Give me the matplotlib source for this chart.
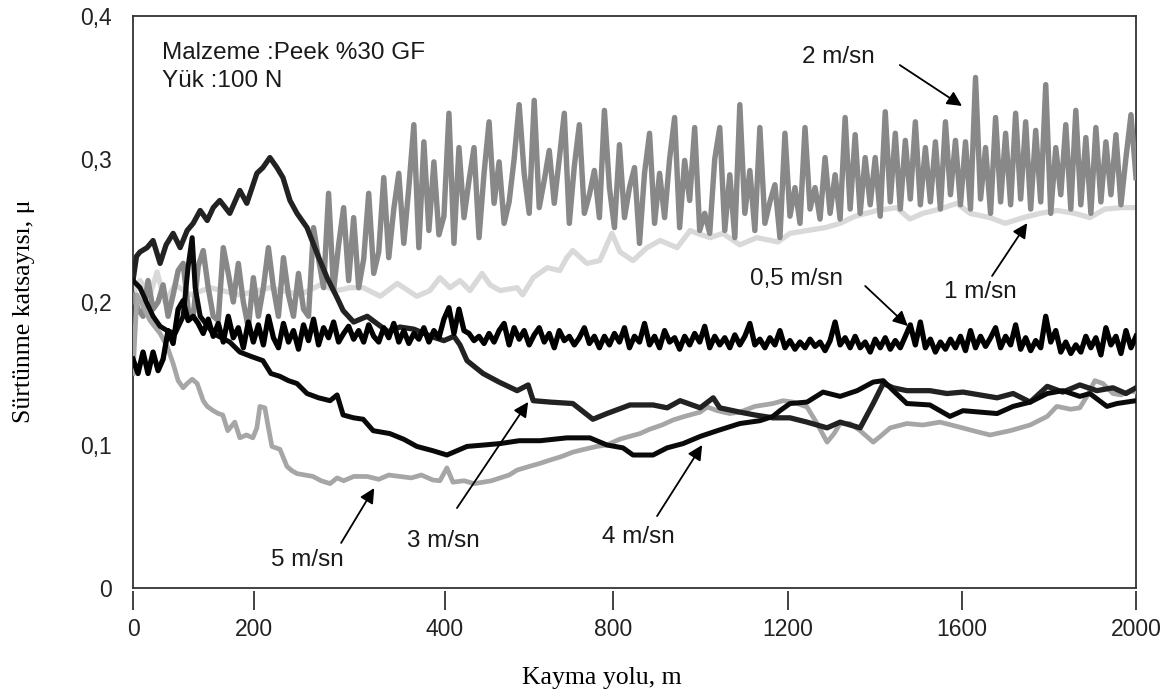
import numpy as np
import matplotlib.pyplot as plt

# x runs linear over the plotted length 0..2000; the tick labels of the
# original sit at uneven places, so they are put where the picture has them
xtick_pos = [0, 241, 622, 957, 1306, 1653, 2000]
xtick_lbl = ['0', '200', '400', '800', '1200', '1600', '2000']
ytick_pos = [0, 0.1, 0.2, 0.3, 0.4]
ytick_lbl = ['0', '0,1', '0,2', '0,3', '0,4']

# 0,5 m/sn - sampled every 10 m
mu_05 = [0.160, 0.150, 0.165, 0.150, 0.165, 0.152, 0.160, 0.180, 0.171, 0.195,
         0.201, 0.187, 0.190, 0.185, 0.178, 0.188, 0.176, 0.185, 0.172, 0.190,
         0.175, 0.182, 0.168, 0.186, 0.172, 0.184, 0.170, 0.190, 0.175, 0.168,
         0.185, 0.172, 0.180, 0.167, 0.184, 0.173, 0.188, 0.170, 0.182, 0.175,
         0.186, 0.172, 0.178, 0.183, 0.174, 0.180, 0.172, 0.184, 0.176, 0.172,
         0.182, 0.175, 0.185, 0.172, 0.180, 0.171, 0.178, 0.174, 0.182, 0.172,
         0.180, 0.175, 0.188, 0.196, 0.178, 0.195, 0.180, 0.178, 0.173, 0.176,
         0.171, 0.178, 0.172, 0.180, 0.185, 0.170, 0.182, 0.174, 0.180, 0.170,
         0.177, 0.182, 0.172, 0.178, 0.168, 0.180, 0.173, 0.176, 0.170, 0.175,
         0.182, 0.171, 0.176, 0.168, 0.176, 0.170, 0.178, 0.172, 0.182, 0.168,
         0.176, 0.172, 0.185, 0.170, 0.176, 0.168, 0.180, 0.172, 0.175, 0.167,
         0.176, 0.170, 0.178, 0.172, 0.183, 0.168, 0.176, 0.170, 0.175, 0.168,
         0.177, 0.170, 0.176, 0.185, 0.170, 0.174, 0.168, 0.175, 0.170, 0.180,
         0.168, 0.173, 0.167, 0.172, 0.168, 0.174, 0.169, 0.172, 0.166, 0.173,
         0.186, 0.170, 0.175, 0.168, 0.176, 0.168, 0.172, 0.165, 0.174, 0.168,
         0.175, 0.167, 0.173, 0.168, 0.176, 0.184, 0.170, 0.186, 0.168, 0.174,
         0.165, 0.172, 0.167, 0.174, 0.168, 0.176, 0.166, 0.180, 0.168, 0.176,
         0.169, 0.175, 0.182, 0.168, 0.176, 0.170, 0.184, 0.167, 0.175, 0.166,
         0.173, 0.168, 0.190, 0.172, 0.180, 0.165, 0.172, 0.164, 0.170, 0.165,
         0.176, 0.168, 0.175, 0.163, 0.182, 0.170, 0.176, 0.164, 0.180, 0.168,
         0.176]

# 2 m/sn - sampled every 10 m
mu_2 = [0.205, 0.195, 0.190, 0.215, 0.195, 0.200, 0.212, 0.190, 0.205, 0.222,
        0.227, 0.195, 0.190, 0.225, 0.236, 0.210, 0.190, 0.187, 0.238, 0.220,
        0.200, 0.227, 0.200, 0.182, 0.217, 0.190, 0.210, 0.238, 0.210, 0.190,
        0.231, 0.205, 0.190, 0.220, 0.195, 0.190, 0.252, 0.230, 0.210,
        0.276, 0.208, 0.240, 0.266, 0.215, 0.259, 0.210, 0.230, 0.276, 0.220,
        0.235, 0.287, 0.231, 0.265, 0.290, 0.241, 0.280, 0.324, 0.238, 0.312,
        0.250, 0.298, 0.247, 0.260, 0.332, 0.241, 0.308, 0.259, 0.285, 0.308,
        0.245, 0.290, 0.326, 0.269, 0.298, 0.255, 0.270, 0.300, 0.338, 0.290,
        0.262, 0.341, 0.266, 0.285, 0.306, 0.269, 0.300, 0.332, 0.255, 0.295,
        0.324, 0.262, 0.275, 0.292, 0.259, 0.334, 0.280, 0.252, 0.310, 0.259,
        0.280, 0.294, 0.241, 0.290, 0.318, 0.255, 0.290, 0.259, 0.300, 0.329,
        0.252, 0.299, 0.271, 0.322,
        0.250, 0.262, 0.248, 0.300, 0.322, 0.250, 0.289, 0.245, 0.338, 0.262,
        0.292, 0.250, 0.322, 0.255, 0.270, 0.282, 0.245, 0.318, 0.260, 0.280,
        0.255, 0.322, 0.265, 0.280, 0.258, 0.301, 0.262, 0.289, 0.258, 0.329,
        0.265, 0.317, 0.262, 0.301, 0.268, 0.301, 0.260, 0.333, 0.270, 0.318,
        0.265, 0.313, 0.272, 0.326, 0.268, 0.308, 0.270, 0.312, 0.265, 0.326,
        0.275, 0.313, 0.268, 0.312, 0.265, 0.357, 0.272, 0.308, 0.262, 0.329,
        0.270, 0.318, 0.268, 0.332, 0.272, 0.326, 0.265, 0.320, 0.270, 0.352,
        0.262, 0.308, 0.275, 0.324, 0.265, 0.334, 0.268, 0.315, 0.262, 0.322,
        0.270, 0.312, 0.275, 0.317, 0.268, 0.301, 0.331, 0.287]

# 1 m/sn
x_1 = [0, 14, 34, 48, 64, 84, 114, 154, 213, 273,
       333, 373, 407, 433, 459, 493, 527, 566, 592, 612,
       632, 652, 672, 696, 712, 732, 766, 777, 798, 826,
       851, 865, 877, 905, 931, 955, 971, 997, 1025, 1051,
       1085, 1111, 1125, 1151, 1176, 1210, 1244, 1286, 1310, 1344,
       1380, 1410, 1440, 1484, 1523, 1549, 1575, 1609, 1643, 1669,
       1709, 1739, 1775, 1809, 1842, 1878, 1908, 1938, 1974, 2000]
mu_1 = [0.205, 0.215, 0.205, 0.221, 0.200, 0.212, 0.205, 0.210, 0.205, 0.210,
        0.205, 0.212, 0.208, 0.210, 0.210, 0.204, 0.213, 0.204, 0.208, 0.217,
        0.210, 0.215, 0.208, 0.220, 0.212, 0.208, 0.210, 0.205, 0.217, 0.224,
        0.222, 0.231, 0.236, 0.227, 0.229, 0.248, 0.235, 0.229, 0.238, 0.243,
        0.238, 0.250, 0.248, 0.245, 0.248, 0.240, 0.245, 0.242, 0.248, 0.250,
        0.252, 0.255, 0.260, 0.264, 0.266, 0.258, 0.262, 0.265, 0.269, 0.262,
        0.259, 0.255, 0.259, 0.262, 0.264, 0.262, 0.259, 0.265, 0.266, 0.266]

# 3 m/sn
x_3 = [0, 7, 14, 28, 40, 54, 66, 80, 94, 108,
       120, 134, 148, 160, 173, 193, 213, 227, 247, 259,
       273, 287, 299, 313, 327, 347, 367, 387, 407, 419,
       440, 467, 490, 510, 532, 560, 598, 620, 640, 652,
       666, 698, 730, 766, 788, 798, 832, 877, 917, 945,
       991, 1037, 1065, 1091, 1131, 1157, 1170, 1210, 1240, 1276,
       1310, 1344, 1384, 1410, 1450, 1476, 1496, 1516, 1543, 1589,
       1623, 1655, 1689, 1723, 1755, 1789, 1823, 1854, 1888, 1922,
       1954, 1980, 2000]
mu_3 = [0.215, 0.232, 0.235, 0.238, 0.243, 0.227, 0.240, 0.248, 0.238, 0.250,
        0.255, 0.264, 0.257, 0.266, 0.271, 0.262, 0.278, 0.269, 0.290, 0.294,
        0.301, 0.294, 0.287, 0.271, 0.262, 0.252, 0.234, 0.217, 0.203, 0.194,
        0.186, 0.190, 0.184, 0.179, 0.1825, 0.181, 0.1755, 0.173, 0.176, 0.170,
        0.159, 0.150, 0.144, 0.138, 0.142, 0.131, 0.130, 0.129, 0.118, 0.122,
        0.128, 0.128, 0.126, 0.131, 0.126, 0.133, 0.126, 0.123, 0.121, 0.119,
        0.119, 0.116, 0.112, 0.116, 0.112, 0.129, 0.143, 0.140, 0.138, 0.138,
        0.136, 0.137, 0.135, 0.133, 0.136, 0.130, 0.141, 0.137, 0.142, 0.138,
        0.140, 0.136, 0.140]

# 4 m/sn
x_4 = [0, 14, 28, 40, 54, 68, 84, 100, 110, 118,
       124, 134, 160, 193, 213, 235, 259, 275, 293, 310,
       327, 347, 370, 393, 407, 419, 440, 459, 479, 512,
       540, 566, 598, 626, 666, 700, 732, 770, 812, 865,
       911, 945, 977, 997, 1037, 1065, 1097, 1131, 1165, 1210,
       1250, 1276, 1290, 1310, 1344, 1376, 1410, 1444, 1476, 1496,
       1516, 1543, 1589, 1609, 1629, 1655, 1689, 1723, 1755, 1789,
       1823, 1854, 1888, 1908, 1942, 1962, 2000]
mu_4 = [0.215, 0.210, 0.199, 0.190, 0.183, 0.180, 0.178, 0.190, 0.225, 0.245,
        0.210, 0.190, 0.178, 0.172, 0.165, 0.162, 0.159, 0.150, 0.148, 0.145,
        0.143, 0.136, 0.133, 0.131, 0.135, 0.121, 0.119, 0.118, 0.110, 0.108,
        0.104, 0.099, 0.096, 0.093, 0.099, 0.100, 0.101, 0.103, 0.103, 0.105,
        0.105, 0.100, 0.098, 0.093, 0.093, 0.098, 0.101, 0.106, 0.110, 0.115,
        0.117, 0.120, 0.124, 0.129, 0.130, 0.137, 0.134, 0.138, 0.144, 0.145,
        0.138, 0.129, 0.128, 0.124, 0.120, 0.124, 0.123, 0.122, 0.127, 0.130,
        0.136, 0.138, 0.134, 0.136, 0.127, 0.129, 0.131]

# 5 m/sn
x_5 = [0, 8, 20, 34, 54, 68, 80, 90, 100, 108,
       118, 128, 140, 148, 160, 170, 179, 189, 196, 203,
       213, 226, 239, 247, 253, 263, 270, 277, 293, 307,
       317, 327, 343, 359, 375, 393, 407, 420, 440, 467,
       490, 510, 532, 555, 575, 598, 612, 626, 638, 660,
       680, 698, 715, 732, 750, 766, 790, 810, 832, 855,
       877, 900, 925, 945, 970, 990, 1011, 1030, 1055, 1077,
       1100, 1131, 1145, 1165, 1190, 1210, 1240, 1276, 1296, 1316,
       1344, 1364, 1384, 1398, 1410, 1430, 1450, 1476, 1490, 1510,
       1543, 1575, 1609, 1643, 1675, 1709, 1749, 1789, 1823, 1842,
       1870, 1888, 1902, 1918, 1934, 1954, 1970, 1988, 2000]
mu_5 = [0.150, 0.205, 0.197, 0.187, 0.178, 0.169, 0.157, 0.145, 0.140, 0.143,
        0.146, 0.143, 0.131, 0.127, 0.124, 0.122, 0.121, 0.110, 0.113, 0.116,
        0.105, 0.107, 0.105, 0.112, 0.127, 0.126, 0.112, 0.099, 0.097, 0.085,
        0.082, 0.080, 0.079, 0.078, 0.075, 0.073, 0.077, 0.075, 0.078, 0.078,
        0.076, 0.079, 0.078, 0.077, 0.079, 0.0755, 0.075, 0.084, 0.074, 0.075,
        0.073, 0.074, 0.075, 0.077, 0.079, 0.0825, 0.085, 0.087, 0.0895, 0.092,
        0.095, 0.097, 0.099, 0.100, 0.104, 0.106, 0.108, 0.111, 0.114, 0.1175,
        0.120, 0.123, 0.1266, 0.124, 0.122, 0.123, 0.127, 0.129, 0.131, 0.130,
        0.1266, 0.115, 0.102, 0.108, 0.115, 0.115, 0.110, 0.102, 0.106, 0.112,
        0.115, 0.114, 0.116, 0.113, 0.110, 0.107, 0.110, 0.114, 0.120, 0.127,
        0.125, 0.126, 0.134, 0.145, 0.143, 0.136, 0.135, 0.138, 0.137]

x_05 = np.linspace(0, 2000, len(mu_05))
x_2 = np.linspace(0, 2000, len(mu_2))

plt.rcParams['font.family'] = ['Liberation Sans', 'DejaVu Sans']

W, H = 1174, 699
fig = plt.figure(figsize=(W / 100, H / 100), dpi=100)
ax = fig.add_axes([133 / W, 1 - 588 / H, (1136 - 133) / W, (588 - 16) / H])

#bottom layers first, black 0,5 m/sn on top
ax.plot(x_1, mu_1, color='#d9d9d9', lw=3.8, zorder=2)
ax.plot(x_2, mu_2, color='#888888', lw=3.9, zorder=3)
ax.plot(x_5, mu_5, color='#a6a6a6', lw=3.4, zorder=4)
ax.plot(x_3, mu_3, color='#222222', lw=3.8, zorder=5)
ax.plot(x_4, mu_4, color='#0a0a0a', lw=3.6, zorder=6)
ax.plot(x_05, mu_05, color='#000000', lw=3.8, zorder=7)

ax.set_xlim(0, 2000)
ax.set_ylim(0, 0.4)
ax.set_xticks(xtick_pos)
ax.set_xticklabels(xtick_lbl)
ax.set_yticks(ytick_pos)
ax.set_yticklabels(ytick_lbl)

for side in ['top', 'left', 'right']:
    ax.spines[side].set_color('#333333')
    ax.spines[side].set_linewidth(1.3)
#ticks hang a little below the frame, so the bottom spine is moved out
ax.spines['bottom'].set_position(('outward', 2.5))
ax.spines['bottom'].set_visible(False)
ax.axhline(0, color='#333333', lw=1.3, clip_on=False, zorder=8)

ax.tick_params(axis='x', direction='out', length=13.7, width=1.3,
               color='#333333', pad=5.5, labelsize=16.5, labelcolor='#222222')
ax.tick_params(axis='y', length=0, pad=15, labelsize=16.5,
               labelcolor='#222222')

# label, text position, arrow tail, arrow tip
notes = [('2 m/sn', (1406, 0.367), (1529, 0.3657), (1653, 0.3371)),
         ('0,5 m/sn', (1324, 0.212), (1460, 0.2112), (1545, 0.1832)),
         ('1 m/sn', (1689, 0.2028), (1713, 0.2182), (1783, 0.2552)),
         ('5 m/sn', (347, 0.0154), (415, 0.0315), (481, 0.0699)),
         ('3 m/sn', (618, 0.0287), (646, 0.0559), (788, 0.1301)),
         ('4 m/sn', (1007, 0.0315), (1045, 0.0503), (1135, 0.100))]
for txt, pos, tail, tip in notes:
    ax.text(pos[0], pos[1], txt, ha='center', va='baseline', fontsize=17.5,
            color='#1a1a1a', zorder=9)
    ax.annotate('', xy=tip, xytext=tail, zorder=9,
                arrowprops=dict(arrowstyle='-|>', color='black', lw=1.3,
                                mutation_scale=22, shrinkA=0, shrinkB=0))

ax.text(58, 0.370, 'Malzeme :Peek %30 GF', ha='left', va='baseline',
        fontsize=17.5, color='#1a1a1a')
ax.text(58, 0.3503, 'Yük :100 N', ha='left', va='baseline',
        fontsize=17.5, color='#1a1a1a')

fig.text(24 / W, 1 - 311 / H, 'Sürtünme katsayısı, μ', rotation=90,
         ha='center', va='center', family='Liberation Serif', fontsize=18.5)
fig.text(602 / W, 1 - 678 / H, 'Kayma yolu, m', ha='center', va='center',
         family='Liberation Serif', fontsize=18.5)

fig.savefig('out.png', dpi=100)
